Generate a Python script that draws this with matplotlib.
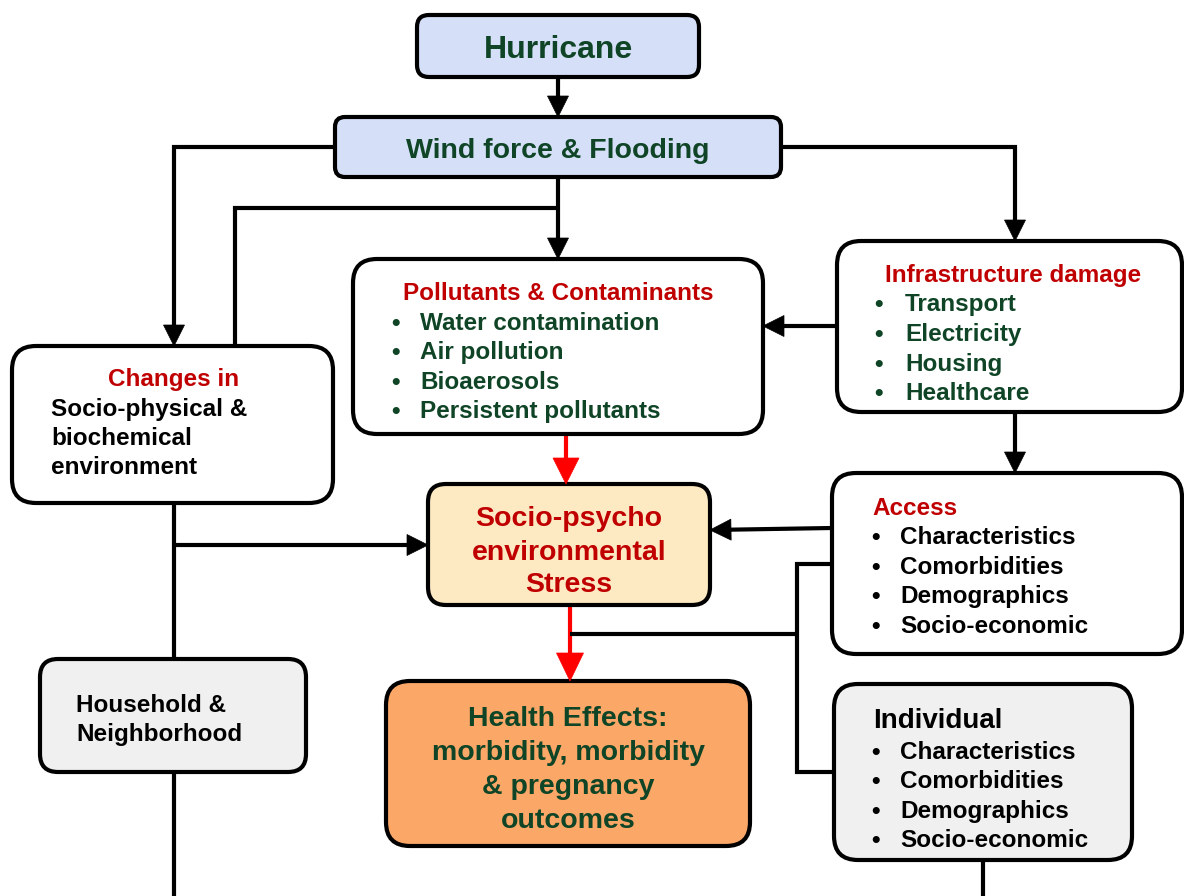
import matplotlib
matplotlib.use("Agg")
import matplotlib.pyplot as plt
from matplotlib.patches import FancyBboxPatch, Polygon

plt.rcParams['font.family'] = ['Liberation Sans', 'DejaVu Sans']

GREEN = '#0f4526'
RED = '#c00000'
BLACK = '#000000'

# ---- text content ----
hurricane_label = "Hurricane"
wind_label = "Wind force & Flooding"
pollutant_title = "Pollutants & Contaminants"
pollutant_items = ["Water contamination", "Air pollution", "Bioaerosols", "Persistent pollutants"]
infra_title = "Infrastructure damage"
infra_items = ["Transport", "Electricity", "Housing", "Healthcare"]
changes_title = "Changes in"
changes_lines = ["Socio-physical &", "biochemical", "environment"]
stress_lines = ["Socio-psycho", "environmental", "Stress"]
access_title = "Access"
access_items = ["Characteristics", "Comorbidities", "Demographics", "Socio-economic"]
household_lines = ["Household &", "Neighborhood"]
health_lines = ["Health Effects:", "morbidity, morbidity", "& pregnancy", "outcomes"]
individual_title = "Individual"
individual_items = ["Characteristics", "Comorbidities", "Demographics", "Socio-economic"]

W, H = 1184, 896
fig = plt.figure(figsize=(W / 100, H / 100), dpi=100)
ax = fig.add_axes([0, 0, 1, 1])
ax.set_xlim(0, W)
ax.set_ylim(H, 0)
ax.axis('off')

LW = 3.0


def box(x0, y0, x1, y1, fc, r=20):
    p = FancyBboxPatch((x0, y0), x1 - x0, y1 - y0,
                       boxstyle=f"round,pad=0,rounding_size={r}",
                       fc=fc, ec='black', lw=LW, zorder=3)
    ax.add_patch(p)


def line(pts, color=BLACK, lw=LW):
    xs = [p[0] for p in pts]
    ys = [p[1] for p in pts]
    ax.plot(xs, ys, color=color, lw=lw, solid_capstyle='butt',
            solid_joinstyle='miter', zorder=2)


def arrow(pts, color=BLACK, hl=21, hw=21, lw=LW):
    (xa, ya), (xb, yb) = pts[-2], pts[-1]
    dx, dy = xb - xa, yb - ya
    L = (dx ** 2 + dy ** 2) ** 0.5
    ux, uy = dx / L, dy / L
    bx, by = xb - ux * hl, yb - uy * hl
    line(pts[:-1] + [(bx + ux * 2, by + uy * 2)], color=color, lw=lw)
    px, py = -uy, ux
    tri = [(xb, yb), (bx + px * hw / 2, by + py * hw / 2),
           (bx - px * hw / 2, by - py * hw / 2)]
    ax.add_patch(Polygon(tri, closed=True, fc=color, ec=color, lw=0.5, zorder=4))


# ---- connectors ----
arrow([(558, 77), (558, 117)])
arrow([(335, 147), (174, 147), (174, 346)])
arrow([(781, 147), (1015, 147), (1015, 241)])
arrow([(558, 177), (558, 259)])
line([(235, 346), (235, 208), (558, 208)])
arrow([(837, 326), (763, 326)])
arrow([(1015, 412), (1015, 473)])
arrow([(566, 434), (566, 484)], color='#ff0000', hl=26, hw=26)
arrow([(832, 528), (710, 530)])
line([(174, 503), (174, 659)])
arrow([(174, 545), (428, 545)])
line([(174, 772), (174, 896)])
arrow([(570, 605), (570, 681)], color='#ff0000', hl=28, hw=27)
line([(570, 634), (797, 634)])
line([(832, 564), (797, 564), (797, 772), (834, 772)])
line([(983, 860), (983, 896)])

# ---- boxes ----
box(417, 15, 699, 77, '#d5dff8', r=12)
box(335, 117, 781, 177, '#d5dff8', r=10)
box(353, 259, 763, 434, 'white', r=24)
box(837, 241, 1182, 412, 'white', r=24)
box(12, 346, 333, 503, 'white', r=24)
box(428, 484, 710, 605, '#fde9c2', r=18)
box(832, 473, 1182, 654, 'white', r=24)
box(40, 659, 306, 772, '#f0f0f0', r=18)
box(386, 681, 750, 846, '#fba767', r=24)
box(834, 684, 1132, 860, '#f0f0f0', r=24)

TZ = 5
DY = 2.5


def txt(x, y, s, size, color, ha='left'):
    ax.text(x, y + DY, s, fontsize=size, color=color, ha=ha, va='center',
            fontweight='bold', zorder=TZ)


def bullets(bx, tx, ys, items, size, color):
    for y, s in zip(ys, items):
        txt(bx, y, '•', size, color)
        txt(tx, y, s, size, color)


txt(558, 47, hurricane_label, 23, GREEN, ha='center')
txt(558, 148, wind_label, 20.5, GREEN, ha='center')

txt(558, 291, pollutant_title, 17.5, RED, ha='center')
bullets(391, 420, [321, 350, 380, 409], pollutant_items, 17.5, GREEN)

txt(1013, 273, infra_title, 17.5, RED, ha='center')
bullets(874, 905, [302, 332, 362, 391], infra_items, 17.5, GREEN)

txt(174, 377, changes_title, 17.5, RED, ha='center')
for y, s in zip([407, 436, 465], changes_lines):
    txt(51, y, s, 17.5, BLACK)

for y, s in zip([517, 550, 583], stress_lines):
    txt(569, y, s, 20.5, RED, ha='center')

txt(872, 506, access_title, 17.5, RED)
bullets(871, 900, [535, 565, 594, 624], access_items, 17.5, BLACK)

for y, s in zip([703, 732], household_lines):
    txt(76, y, s, 17.5, BLACK)

for y, s in zip([716, 750, 784, 818], health_lines):
    txt(568, y, s, 20.5, GREEN, ha='center')

txt(873, 718, individual_title, 20, BLACK)
bullets(871, 900, [750, 779, 809, 838], individual_items, 17.5, BLACK)

fig.savefig('out.png', dpi=100)
